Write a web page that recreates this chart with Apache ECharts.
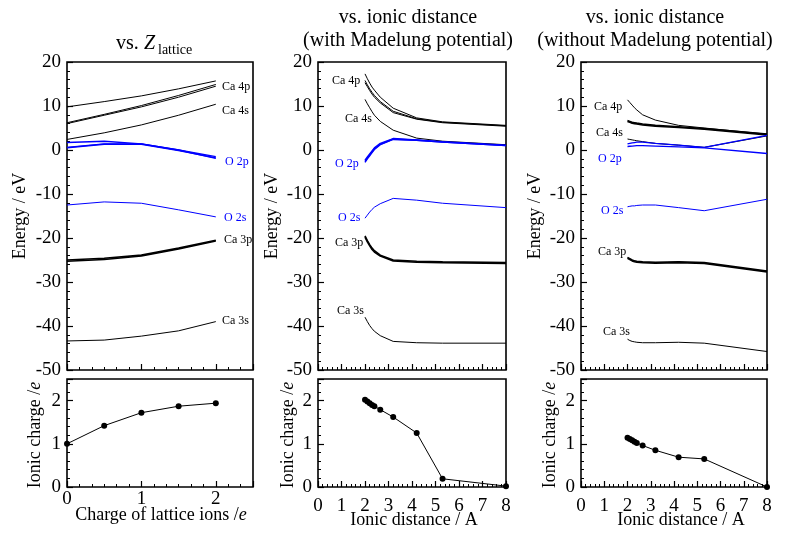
<!DOCTYPE html>
<html><head><meta charset="utf-8">
<script src="https://cdn.jsdelivr.net/npm/echarts@6/dist/echarts.min.js"></script>
<style>html,body{margin:0;padding:0;background:#fff}#c{width:787px;height:534px}</style>
</head><body><div id="c"></div>
<script>
// ---------- Panel 1: vs. Z_lattice ----------
const zLat = [0, 0.5, 1, 1.5, 2];
const p1Ca4pA = [9.8, 11.0, 12.3, 13.9, 15.7];
const p1Ca4pB = [6.0, 7.9, 9.8, 12.0, 14.5];
const p1Ca4pC = [6.2, 8.1, 10.1, 12.4, 14.9];
const p1Ca4s = [2.4, 3.9, 5.7, 7.9, 10.4];
const p1O2pA = [1.7, 2.0, 1.4, 0.0, -1.5];
const p1O2pB = [0.5, 1.3, 1.3, -0.1, -1.8];
const p1O2pC = [0.6, 1.4, 1.4, 0.0, -1.9];
const p1O2s = [-12.5, -11.8, -12.1, -13.6, -15.2];
const p1Ca3pA = [-25.0, -24.6, -23.9, -22.3, -20.5];
const p1Ca3pB = [-25.3, -24.9, -24.1, -22.5, -20.7];
const p1Ca3s = [-43.4, -43.2, -42.3, -41.1, -39.0];
const p1Charge = [1.0, 1.42, 1.72, 1.87, 1.94];

// ---------- Panel 2: vs. ionic distance (with Madelung) ----------
const dist = [2.0, 2.1, 2.2, 2.3, 2.4, 2.65, 3.2, 4.2, 5.3, 8.0];
const p2Ca4pA = [17.3, 16.2, 15.2, 14.3, 13.6, 12.0, 9.5, 7.3, 6.4, 5.6];
const p2Ca4pB = [15.8, 14.8, 13.9, 13.1, 12.4, 11.0, 8.8, 7.1, 6.3, 5.5];
const p2Ca4pC = [15.3, 14.4, 13.5, 12.7, 12.0, 10.7, 8.5, 7.0, 6.2, 5.4];
const p2Ca4s = [11.5, 10.5, 9.6, 8.7, 7.9, 6.5, 4.5, 2.7, 2.0, 1.2];
const p2O2pA = [-2.3, -1.6, -0.9, -0.2, 0.5, 1.5, 2.6, 2.3, 1.9, 1.1];
const p2O2pB = [-2.8, -2.0, -1.3, -0.6, 0.1, 1.2, 2.4, 2.2, 1.8, 1.0];
const p2O2pC = [-2.6, -1.8, -1.1, -0.4, 0.3, 1.3, 2.5, 2.2, 1.8, 1.0];
const p2O2s = [-15.5, -14.8, -14.1, -13.5, -13.0, -12.2, -11.0, -11.4, -12.1, -13.1];
const p2Ca3pA = [-19.5, -20.6, -21.5, -22.3, -22.9, -23.9, -25.0, -25.3, -25.4, -25.6];
const p2Ca3pB = [-19.8, -20.9, -21.8, -22.6, -23.2, -24.1, -25.2, -25.5, -25.6, -25.8];
const p2Ca3s = [-38.0, -39.0, -39.9, -40.6, -41.2, -42.2, -43.5, -43.8, -43.9, -43.9];
const p2Charge = [2.02, 1.98, 1.94, 1.90, 1.87, 1.79, 1.62, 1.25, 0.19, 0.02];

// ---------- Panel 3: vs. ionic distance (without Madelung) ----------
const p3Ca4pA = [11.4, 10.8, 10.2, 9.6, 9.1, 8.0, 6.8, 5.6, 5.0, 3.6];
const p3Ca4pB = [6.7, 6.5, 6.3, 6.2, 6.1, 5.9, 5.6, 5.3, 4.9, 3.6];
const p3Ca4pC = [6.5, 6.3, 6.1, 6.0, 5.9, 5.7, 5.4, 5.1, 4.7, 3.4];
const p3Ca4s = [2.5, 2.4, 2.3, 2.2, 2.1, 1.9, 1.5, 1.1, 0.6, 3.2];
const p3O2pA = [1.4, 1.5, 1.6, 1.7, 1.8, 1.8, 1.5, 1.1, 0.6, 3.3];
const p3O2pB = [0.8, 0.85, 0.9, 0.95, 1.0, 1.0, 0.9, 0.7, 0.5, -0.8];
const p3O2s = [-12.9, -12.8, -12.7, -12.7, -12.6, -12.5, -12.5, -13.1, -13.8, -11.2];
const p3Ca3pA = [-24.4, -24.7, -25.0, -25.2, -25.3, -25.4, -25.5, -25.4, -25.6, -27.5];
const p3Ca3pB = [-24.6, -24.9, -25.2, -25.4, -25.5, -25.6, -25.7, -25.6, -25.8, -27.7];
const p3Ca3s = [-43.0, -43.3, -43.5, -43.6, -43.7, -43.8, -43.8, -43.7, -43.9, -45.8];
const p3Charge = [1.14, 1.11, 1.08, 1.05, 1.02, 0.96, 0.85, 0.69, 0.65, 0.0];

const energyTicks = {min: -50, max: 20, interval: 10};
const chargeTicks = {min: 0, max: 2.5, interval: 1};

const SERIF = 'Liberation Serif';
const BLUE = '#0000ff';

const chart = echarts.init(document.getElementById('c'), null, {renderer: 'canvas'});

const pairs = (xs, ys) => xs.map((x, i) => [x, ys[i]]);

const gridsDef = [
  {left: 67, width: 186}, {left: 318, width: 188}, {left: 581, width: 186}
];
const grid = [];
gridsDef.forEach(g => grid.push({left: g.left, width: g.width, top: 62, height: 308, show: true, borderColor: '#000', borderWidth: 1.6, backgroundColor: 'transparent'}));
gridsDef.forEach(g => grid.push({left: g.left, width: g.width, top: 379, height: 108, show: true, borderColor: '#000', borderWidth: 1.6, backgroundColor: 'transparent'}));

const tickStyle = {inside: true, length: 6, lineStyle: {color: '#000', width: 1.2}};
function xAx(gi, isDist, showLabels, margin) {
  return {
    gridIndex: gi, type: 'value',
    min: 0, max: isDist ? 8 : 2.5, interval: 1,
    axisLine: {show: false, onZero: false}, splitLine: {show: false},
    axisTick: tickStyle,
    minorTick: {show: true, splitNumber: isDist ? 5 : 6, length: 3, lineStyle: {color: '#000', width: 1}},
    axisLabel: {show: showLabels, color: '#000', fontFamily: SERIF, fontSize: 19, margin: margin,
      formatter: v => (Math.abs(v - Math.round(v)) < 1e-9 ? String(v) : '')}
  };
}
function yAx(gi, energy) {
  const t = energy ? energyTicks : chargeTicks;
  return {
    gridIndex: gi, type: 'value', min: t.min, max: t.max, interval: t.interval,
    axisLine: {show: false, onZero: false}, splitLine: {show: false},
    axisTick: tickStyle,
    minorTick: {show: true, splitNumber: 5, length: 3, lineStyle: {color: '#000', width: 1}},
    axisLabel: {color: '#000', fontFamily: SERIF, fontSize: 19, margin: 6,
      formatter: v => (Math.abs(v - Math.round(v)) < 1e-9 ? String(v) : '')}
  };
}

const xAxis = [xAx(0, false, false, 4), xAx(1, true, false, 4), xAx(2, true, false, 4),
               xAx(3, false, true, 3), xAx(4, true, true, 10), xAx(5, true, true, 10)];
const yAxis = [yAx(0, true), yAx(1, true), yAx(2, true), yAx(3, false), yAx(4, false), yAx(5, false)];

const series = [];
function ln(gi, xs, ys, color, width) {
  series.push({type: 'line', xAxisIndex: gi, yAxisIndex: gi, data: pairs(xs, ys),
    showSymbol: false, symbol: 'none', silent: true, animation: false,
    lineStyle: {color: color, width: width || 1}});
}
function dots(gi, xs, ys) {
  series.push({type: 'line', xAxisIndex: gi, yAxisIndex: gi, data: pairs(xs, ys),
    symbol: 'circle', symbolSize: 6, showSymbol: true, clip: false, silent: true, animation: false,
    itemStyle: {color: '#000'}, lineStyle: {color: '#000', width: 1}});
}
// panel 1
[p1Ca4pA, p1Ca4pB, p1Ca4pC, p1Ca4s, p1Ca3s].forEach(a => ln(0, zLat, a, '#000', 1));
ln(0, zLat, p1Ca3pA, '#000', 1.6); ln(0, zLat, p1Ca3pB, '#000', 1.6);
[p1O2pA, p1O2pB, p1O2pC].forEach(a => ln(0, zLat, a, BLUE, 1.4));
ln(0, zLat, p1O2s, BLUE, 1);
// panel 2
[p2Ca4pA, p2Ca4pB, p2Ca4pC, p2Ca4s, p2Ca3s].forEach(a => ln(1, dist, a, '#000', 1));
ln(1, dist, p2Ca3pA, '#000', 1.6); ln(1, dist, p2Ca3pB, '#000', 1.6);
[p2O2pA, p2O2pB, p2O2pC].forEach(a => ln(1, dist, a, BLUE, 1.4));
ln(1, dist, p2O2s, BLUE, 1);
// panel 3
[p3Ca4pA, p3Ca4s, p3Ca3s].forEach(a => ln(2, dist, a, '#000', 1));
ln(2, dist, p3Ca4pB, '#000', 1.6); ln(2, dist, p3Ca4pC, '#000', 1.6);
ln(2, dist, p3Ca3pA, '#000', 1.6); ln(2, dist, p3Ca3pB, '#000', 1.6);
[p3O2pA, p3O2pB].forEach(a => ln(2, dist, a, BLUE, 1.3));
ln(2, dist, p3O2s, BLUE, 1);
// charges
dots(3, zLat, p1Charge);
dots(4, dist, p2Charge);
dots(5, dist, p3Charge);

const g = [];
function txt(x, y, s, opt) {
  g.push(Object.assign({type: 'text', x: x, y: y, z: 100,
    style: Object.assign({text: s, fill: '#000', font: '12px ' + SERIF, textAlign: 'left', textVerticalAlign: 'middle'}, (opt && opt.style) || {})},
    (opt && opt.el) || {}));
}
const ann = (x, y, s, blue) => txt(x, y, s, {style: {fill: blue ? BLUE : '#000', font: '12px ' + SERIF}});
// panel 1 annotations
ann(222, 87, 'Ca 4p'); ann(222, 111, 'Ca 4s'); ann(225, 162, 'O 2p', true);
ann(224, 218, 'O 2s', true); ann(224, 240, 'Ca 3p'); ann(222, 321, 'Ca 3s');
// panel 2 annotations
ann(332, 81, 'Ca 4p'); ann(345, 119, 'Ca 4s'); ann(335, 164, 'O 2p', true);
ann(338, 218, 'O 2s', true); ann(335, 243, 'Ca 3p'); ann(337, 311, 'Ca 3s');
// panel 3 annotations
ann(594, 107, 'Ca 4p'); ann(596, 133, 'Ca 4s'); ann(598, 159, 'O 2p', true);
ann(601, 211, 'O 2s', true); ann(598, 252, 'Ca 3p'); ann(603, 332, 'Ca 3s');

// titles
const tf = '20px ' + SERIF;
txt(116, 44, 'vs. ', {style: {font: tf}});
txt(144, 44, 'Z', {style: {font: 'italic ' + tf}});
txt(158, 50, 'lattice', {style: {font: '14px ' + SERIF}});
txt(408, 18, 'vs. ionic distance', {style: {font: tf, textAlign: 'center'}});
txt(408, 41, '(with Madelung potential)', {style: {font: tf, textAlign: 'center'}});
txt(655, 18, 'vs. ionic distance', {style: {font: tf, textAlign: 'center'}});
txt(655, 41, '(without Madelung potential)', {style: {font: tf, textAlign: 'center'}});

// axis names
const nf = '18px ' + SERIF;
const vname = (x, y, s) => txt(x, y, s, {style: {font: nf, textAlign: 'center', rich: {i: {font: 'italic ' + nf}}}, el: {rotation: Math.PI / 2}});
vname(20, 216, 'Energy / eV'); vname(272, 216, 'Energy / eV'); vname(535, 216, 'Energy / eV');
vname(35, 435, 'Ionic charge /{i|e}'); vname(288, 435, 'Ionic charge /{i|e}'); vname(550, 435, 'Ionic charge /{i|e}');
const hname = (x, y, s) => txt(x, y, s, {style: {font: nf, textAlign: 'center', rich: {i: {font: 'italic ' + nf}}}});
hname(161, 515, 'Charge of lattice ions /{i|e}');
hname(414, 520, 'Ionic distance / A');
hname(681, 520, 'Ionic distance / A');

chart.setOption({
  animation: false,
  backgroundColor: '#fff',
  grid: grid, xAxis: xAxis, yAxis: yAxis, series: series, graphic: g
});
</script></body></html>
